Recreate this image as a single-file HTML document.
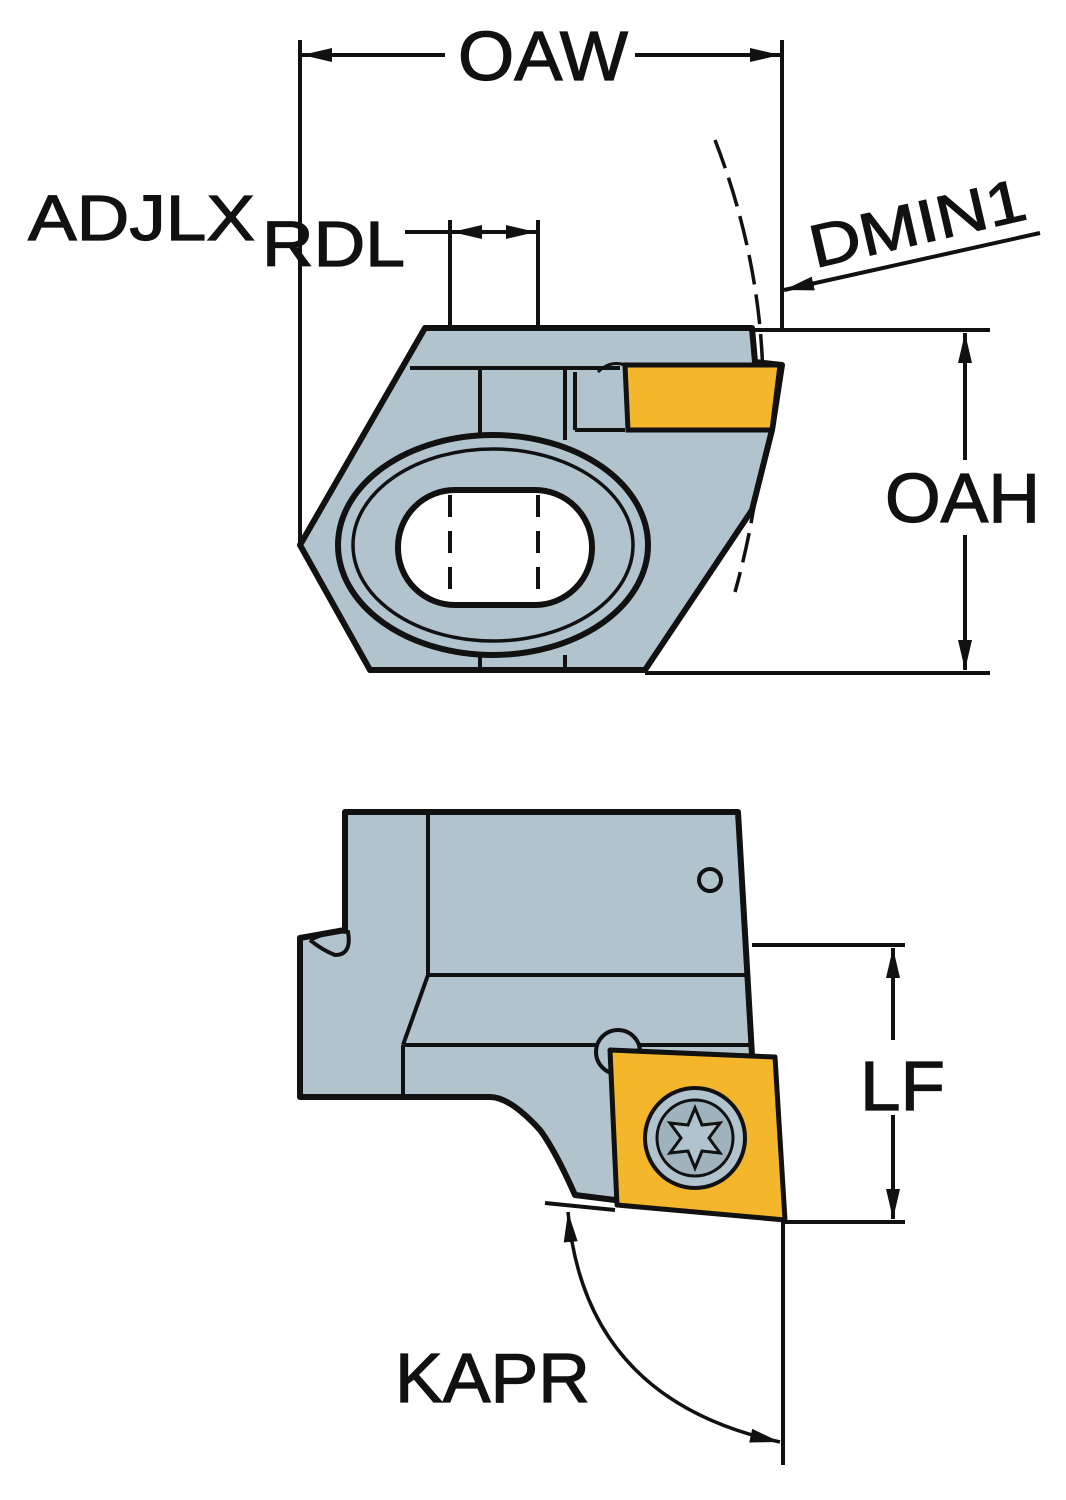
<!DOCTYPE html>
<html><head><meta charset="utf-8"><style>
html,body{margin:0;padding:0;background:#fff;}
svg{display:block;}
text{font-family:"Liberation Sans",sans-serif;fill:#111;stroke:#111;stroke-width:1.2;}
</style></head><body>
<svg width="1066" height="1500" viewBox="0 0 1066 1500" xmlns="http://www.w3.org/2000/svg">
<defs>
<marker id="b" markerWidth="30" markerHeight="14" refX="30" refY="7" orient="auto-start-reverse" markerUnits="userSpaceOnUse" viewBox="0 0 30 14">
<path d="M0,0 L30,7 L0,14 z" fill="#111"/></marker>
</defs>
<g stroke="#111" fill="none">
<line x1="300" y1="40" x2="300" y2="545" stroke-width="4"/>
<line x1="782" y1="40" x2="782" y2="330" stroke-width="4"/>
<line x1="302" y1="55" x2="445" y2="55" stroke-width="4" marker-start="url(#b)"/>
<line x1="635" y1="55" x2="780" y2="55" stroke-width="4" marker-end="url(#b)"/>
<line x1="405" y1="232" x2="450" y2="232" stroke-width="4"/>
<line x1="452" y1="232" x2="536" y2="232" stroke-width="4" marker-start="url(#b)" marker-end="url(#b)"/>
<line x1="450" y1="220" x2="450" y2="490" stroke-width="4"/>
<line x1="538" y1="220" x2="538" y2="490" stroke-width="4"/>
<line x1="1040" y1="233" x2="784" y2="290" stroke-width="4" marker-end="url(#b)"/>
<path d="M715,140 Q800,360 735,592" stroke-width="3.5" stroke-dasharray="30,10"/>
<line x1="752" y1="330" x2="990" y2="330" stroke-width="4"/>
<line x1="645" y1="673" x2="990" y2="673" stroke-width="4"/>
<line x1="965" y1="333" x2="965" y2="460" stroke-width="4" marker-start="url(#b)"/>
<line x1="965" y1="535" x2="965" y2="670" stroke-width="4" marker-end="url(#b)"/>
</g>
<path d="M425,328 L752,328 L755,362 L782,365 L772,430 L752,510 L645,670 L370,670 L300,545 Z" fill="#b1c4cd" stroke="#111" stroke-width="6" stroke-linejoin="round"/>
<g stroke="#111" stroke-width="4" fill="none">
<line x1="410" y1="368" x2="620" y2="368"/>
<line x1="480" y1="368" x2="480" y2="440"/>
<line x1="565" y1="368" x2="565" y2="440"/>
<line x1="575" y1="372" x2="575" y2="430"/>
<line x1="575" y1="430" x2="625" y2="430"/>
<line x1="480" y1="655" x2="480" y2="670"/>
<line x1="565" y1="655" x2="565" y2="670"/>
</g>
<ellipse cx="493" cy="545" rx="155" ry="110" fill="#b1c4cd" stroke="#111" stroke-width="6"/>
<ellipse cx="493" cy="545" rx="140" ry="96" fill="none" stroke="#111" stroke-width="3.5"/>
<rect x="398" y="490" width="194" height="115" rx="57" fill="#fff" stroke="#111" stroke-width="6"/>
<g stroke="#111" stroke-width="4" stroke-dasharray="22,14">
<line x1="450" y1="495" x2="450" y2="600"/><line x1="538" y1="495" x2="538" y2="600"/>
</g>
<path d="M625,365 L780,365 L772,430 L628,430 Z" fill="#f4b62a" stroke="#111" stroke-width="5"/>
<path d="M598,372 Q610,360 625,365" stroke="#111" stroke-width="3" fill="none"/>
<text x="458" y="80" font-size="70" textLength="170" lengthAdjust="spacingAndGlyphs">OAW</text>
<text x="28" y="240" font-size="64" textLength="227" lengthAdjust="spacingAndGlyphs">ADJLX</text>
<text x="262" y="266" font-size="64" textLength="143" lengthAdjust="spacingAndGlyphs">RDL</text>
<text x="0" y="0" font-size="60" textLength="220" lengthAdjust="spacingAndGlyphs" transform="translate(815,268) rotate(-13)">DMIN1</text>
<text x="885" y="522" font-size="70" textLength="155" lengthAdjust="spacingAndGlyphs">OAH</text>

<path d="M345,812 L738,812 L752,1055 L615,1200 L575,1195 Q555,1150 540,1130 Q510,1097 490,1097 L300,1097 L300,938 L345,930 Z" fill="#b1c4cd" stroke="#111" stroke-width="6" stroke-linejoin="round"/>
<g stroke="#111" stroke-width="4" fill="none">
<line x1="428" y1="815" x2="428" y2="975"/>
<line x1="428" y1="975" x2="745" y2="975"/>
<line x1="428" y1="975" x2="403" y2="1045"/>
<line x1="403" y1="1045" x2="403" y2="1095"/>
<line x1="403" y1="1045" x2="752" y2="1045"/>
<path d="M310,940 Q330,930 348,932 Q352,955 335,955 Q322,950 310,940"/>
<circle cx="710" cy="880" r="11" stroke-width="4"/>
<circle cx="618" cy="1052" r="22" fill="#b1c4cd"/>
</g>
<path d="M610,1050 L775,1057 L785,1220 L617,1205 Z" fill="#f4b62a" stroke="#111" stroke-width="5" stroke-linejoin="round"/>
<circle cx="695" cy="1138" r="50" fill="#b1c4cd" stroke="#111" stroke-width="4"/>
<circle cx="695" cy="1138" r="38" fill="#9fb3bc" stroke="#111" stroke-width="3"/>
<path d="M695,1108 L702,1125 L720,1123 L709,1138 L720,1153 L702,1151 L695,1168 L688,1151 L670,1153 L681,1138 L670,1123 L688,1125 Z" fill="#b1c4cd" stroke="#111" stroke-width="3"/>
<g stroke="#111" fill="none" stroke-width="4">
<line x1="752" y1="945" x2="905" y2="945"/>
<line x1="785" y1="1222" x2="905" y2="1222"/>
<line x1="893" y1="948" x2="893" y2="1040" marker-start="url(#b)"/>
<line x1="893" y1="1115" x2="893" y2="1219" marker-end="url(#b)"/>
<line x1="783" y1="1222" x2="783" y2="1465"/>
<line x1="545" y1="1203" x2="615" y2="1210"/>
<path d="M568,1212 Q585,1400 780,1442" stroke-width="3.5" marker-start="url(#b)" marker-end="url(#b)"/>
</g>
<text x="860" y="1110" font-size="70" textLength="85" lengthAdjust="spacingAndGlyphs">LF</text>
<text x="395" y="1402" font-size="70" textLength="195" lengthAdjust="spacingAndGlyphs">KAPR</text>
</svg>
</body></html>
